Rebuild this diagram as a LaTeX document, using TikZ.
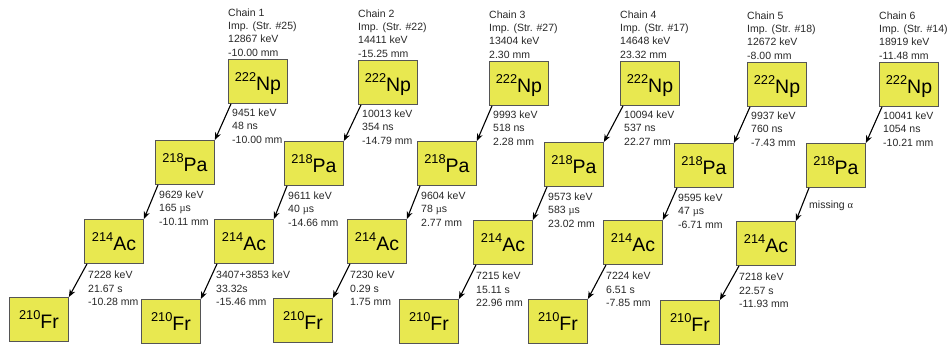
\documentclass[tikz,border=0pt]{standalone}
\usepackage{fontspec}
\setmainfont{Liberation Sans}
\newfontfamily\greekserif{Liberation Serif}
\usetikzlibrary{arrows.meta}
\definecolor{boxfill}{RGB}{232,232,80}
\definecolor{boxline}{RGB}{85,85,85}
\definecolor{txt}{RGB}{40,40,40}
\tikzset{
  nuc/.style={draw=boxline, line width=0.9pt, fill=boxfill, minimum width=59pt,
    minimum height=44pt, inner sep=0pt, anchor=north west, text depth=0pt,
    font=\fontsize{19.5}{19.5}\selectfont},
  info/.style={anchor=north west, inner sep=0pt, align=left, text=txt,
    font=\fontsize{10.5}{13.4}\selectfont},
  decay/.style={-{Stealth[length=7.5pt,width=6pt]}, line width=1.1pt, black},
}
\newcommand\iso[2]{\raisebox{9pt}{\fontsize{12.8}{12.8}\selectfont #1}#2}
\newcommand\nucbox[5]{\node[nuc] (#1) at (#2,#3) {\iso{#4}{#5}};}
\newcommand\infobox[4]{\node[info] (#1) at (#2,#3) {#4};}
\newcommand\mus{{\greekserif\textmu}s}
\begin{document}
\begin{tikzpicture}[x=1pt,y=-1pt]
\useasboundingbox[fill=white] (0,0) rectangle (948,345);
% ---------- Chain 1
\nucbox{np1}{228}{59}{222}{Np}
\nucbox{pa1}{155}{140}{218}{Pa}
\nucbox{ac1}{84}{219}{214}{Ac}
\nucbox{fr1}{9}{297}{210}{Fr}
\infobox{h1}{228}{8.2}{Chain 1\\Imp. (Str. \#25)\\12867 keV\\-10.00 mm}
\infobox{a1}{232}{108.5}{9451 keV\\48 ns\\-10.00 mm}
\infobox{b1}{159}{190.5}{9629 keV\\165 \mus\\-10.11 mm}
\infobox{c1}{88}{271}{7228 keV\\21.67 s\\-10.28 mm}
\draw[decay] ([xshift=3pt]np1.south west) -- (pa1.north east);
\draw[decay] ([xshift=3pt]pa1.south west) -- (ac1.north east);
\draw[decay] ([xshift=3pt]ac1.south west) -- (fr1.north east);
% ---------- Chain 2
\nucbox{np2}{358}{60}{222}{Np}
\nucbox{pa2}{284}{141}{218}{Pa}
\nucbox{ac2}{214}{219}{214}{Ac}
\nucbox{fr2}{141}{299}{210}{Fr}
\infobox{h2}{358}{9.2}{Chain 2\\Imp. (Str. \#22)\\14411 keV\\-15.25 mm}
\infobox{a2}{362}{109.5}{10013 keV\\354 ns\\-14.79 mm}
\infobox{b2}{288}{191.5}{9611 keV\\40 \mus\\-14.66 mm}
\infobox{c2}{216}{271}{3407+3853 keV\\33.32s\\-15.46 mm}
\draw[decay] ([xshift=3pt]np2.south west) -- (pa2.north east);
\draw[decay] ([xshift=3pt]pa2.south west) -- (ac2.north east);
\draw[decay] ([xshift=3pt]ac2.south west) -- (fr2.north east);
% ---------- Chain 3
\nucbox{np3}{489}{61}{222}{Np}
\nucbox{pa3}{417}{141}{218}{Pa}
\nucbox{ac3}{347}{219}{214}{Ac}
\nucbox{fr3}{273}{298}{210}{Fr}
\infobox{h3}{489}{10.2}{Chain 3\\Imp. (Str. \#27)\\13404 keV\\2.30 mm}
\infobox{a3}{493}{110.5}{9993 keV\\518 ns\\2.28 mm}
\infobox{b3}{421}{191.5}{9604 keV\\78 \mus\\2.77 mm}
\infobox{c3}{350}{271}{7230 keV\\0.29 s\\1.75 mm}
\draw[decay] ([xshift=3pt]np3.south west) -- (pa3.north east);
\draw[decay] ([xshift=3pt]pa3.south west) -- (ac3.north east);
\draw[decay] ([xshift=3pt]ac3.south west) -- (fr3.north east);
% ---------- Chain 4
\nucbox{np4}{620}{61}{222}{Np}
\nucbox{pa4}{544}{142}{218}{Pa}
\nucbox{ac4}{473}{220}{214}{Ac}
\nucbox{fr4}{399}{299}{210}{Fr}
\infobox{h4}{620}{10.2}{Chain 4\\Imp. (Str. \#17)\\14648 keV\\23.32 mm}
\infobox{a4}{624}{110.5}{10094 keV\\537 ns\\22.27 mm}
\infobox{b4}{548}{192.5}{9573 keV\\583 \mus\\23.02 mm}
\infobox{c4}{476}{272}{7215 keV\\15.11 s\\22.96 mm}
\draw[decay] ([xshift=3pt]np4.south west) -- (pa4.north east);
\draw[decay] ([xshift=3pt]pa4.south west) -- (ac4.north east);
\draw[decay] ([xshift=3pt]ac4.south west) -- (fr4.north east);
% ---------- Chain 5
\nucbox{np5}{747}{62}{222}{Np}
\nucbox{pa5}{674}{143}{218}{Pa}
\nucbox{ac5}{603}{220}{214}{Ac}
\nucbox{fr5}{528}{299}{210}{Fr}
\infobox{h5}{747}{11.2}{Chain 5\\Imp. (Str. \#18)\\12672 keV\\-8.00 mm}
\infobox{a5}{751}{111.5}{9937 keV\\760 ns\\-7.43 mm}
\infobox{b5}{678}{193.5}{9595 keV\\47 \mus\\-6.71 mm}
\infobox{c5}{606}{272}{7224 keV\\6.51 s\\-7.85 mm}
\draw[decay] ([xshift=3pt]np5.south west) -- (pa5.north east);
\draw[decay] ([xshift=3pt]pa5.south west) -- (ac5.north east);
\draw[decay] ([xshift=3pt]ac5.south west) -- (fr5.north east);
% ---------- Chain 6
\nucbox{np6}{879}{62}{222}{Np}
\nucbox{pa6}{806}{143}{218}{Pa}
\nucbox{ac6}{736}{221}{214}{Ac}
\nucbox{fr6}{660}{300}{210}{Fr}
\infobox{h6}{879}{11.2}{Chain 6\\Imp. (Str. \#14)\\18919 keV\\-11.48 mm}
\infobox{a6}{883}{111.5}{10041 keV\\1054 ns\\-10.21 mm}
\node[info, anchor=west] (b6) at (809,206) {missing {\greekserif α}};
\infobox{c6}{739}{273}{7218 keV\\22.57 s\\-11.93 mm}
\draw[decay] ([xshift=3pt]np6.south west) -- (pa6.north east);
\draw[decay] ([xshift=3pt]pa6.south west) -- (ac6.north east);
\draw[decay] ([xshift=3pt]ac6.south west) -- (fr6.north east);
\end{tikzpicture}
\end{document}
